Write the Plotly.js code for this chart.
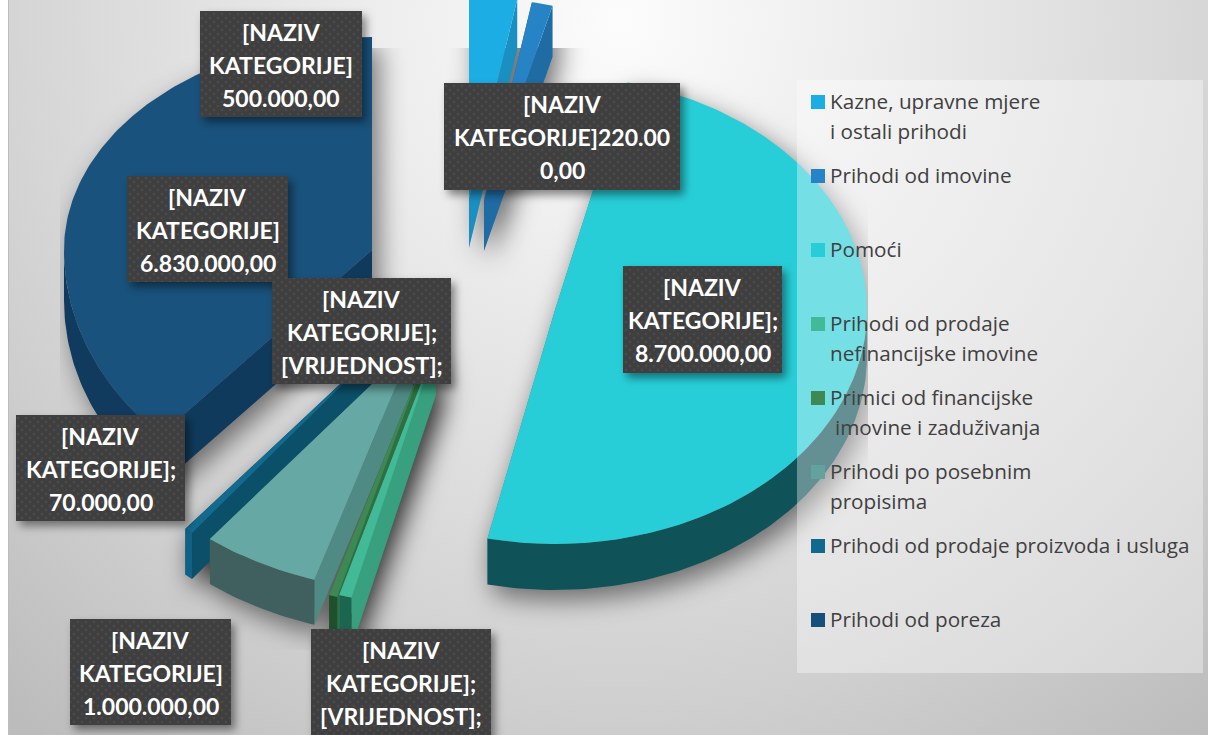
<!DOCTYPE html>
<html><head><meta charset="utf-8">
<script src="https://cdn.plot.ly/plotly-3.0.1.min.js"></script>
<style>
html,body{margin:0;padding:0;background:#fff;width:1208px;height:735px;overflow:hidden}
#bg{position:absolute;left:8px;top:0;width:1200px;height:735px;border-left:1px solid #bdbdbd;box-sizing:border-box;
background:radial-gradient(circle 920px at 612px 20px,#fcfcfc 0%,#eeeeee 25%,#dcdcdc 55%,#cfcfcf 75%,#bcbcbc 100%)}
#chart{position:absolute;left:0;top:0;width:1208px;height:735px}
</style></head><body>
<div id="bg"></div><div id="chart"></div>
<script>
// ---- data ----
const categories = ["Kazne, upravne mjere i ostali prihodi","Prihodi od imovine","Pomoći","Prihodi od prodaje nefinancijske imovine","Primici od financijske imovine i zaduživanja","Prihodi po posebnim propisima","Prihodi od prodaje proizvoda i usluga","Prihodi od poreza"];
const values = [500000,220000,8700000,100000,70000,1000000,70000,6830000];
const legendLines = [["Kazne, upravne mjere","i ostali prihodi"],["Prihodi od imovine"],["Pomoći"],["Prihodi od prodaje","nefinancijske imovine"],["Primici od financijske"," imovine i zaduživanja"],["Prihodi po posebnim","propisima"],["Prihodi od prodaje proizvoda i usluga"],["Prihodi od poreza"]];
const labelTexts = [
 ["[NAZIV","KATEGORIJE]","500.000,00"],
 ["[NAZIV","KATEGORIJE]220.00","0,00"],
 ["[NAZIV","KATEGORIJE];","8.700.000,00"],
 ["[NAZIV","KATEGORIJE];","[VRIJEDNOST];"],
 ["[NAZIV","KATEGORIJE];","[VRIJEDNOST];"],
 ["[NAZIV","KATEGORIJE]","1.000.000,00"],
 ["[NAZIV","KATEGORIJE];","70.000,00"],
 ["[NAZIV","KATEGORIJE]","6.830.000,00"]];
// ---- styles ----
const topColors  = ["#1cade4","#2683c6","#27ced7","#42ba97","#3e8853","#66a8a3","#126b8e","#19527c"];
const cutColors  = ["#1a8fc1","#1f6ba3","#1c9aa1","#38a07e","#2f6f42","#4f8a84","#0b4f68","#0f3a5c"];
const arcColors  = ["#14729a","#175680","#0f5257","#1c6650","#1f4f2d","#3f605e","#0f6286","#103a5e"];
const swatchColors = ["#1cade4","#2683c6","#27ced7","#42ba97","#3e8853","#62a39f","#0f6a8d","#154f7a"];
// per-slice projection: exploded centre, radii (upper/lower half), extrusion, rotation
const geom = [
 {cx:469,cy:198,rx:270,ry:202,ryLow:202,d:50,rot:0,a0Adj:0},
 {cx:484,cy:200,rx:268,ry:201,ryLow:201,d:51,rot:0,a0Adj:0},
 {cx:555,cy:310,rx:312,ry:234,ryLow:234,d:46,rot:-1.4,a0Adj:0},
 {cx:436,cy:345,rx:352,ry:260,ryLow:260,d:50,rot:0,a0Adj:0},
 {cx:429,cy:347,rx:334,ry:260,ryLow:260,d:50,rot:0,a0Adj:0},
 {cx:413,cy:345,rx:330,ry:246,ryLow:246,d:45,rot:0,a0Adj:0},
 {cx:400,cy:328,rx:338,ry:260,ryLow:260,d:46,rot:0,a0Adj:0},
 {cx:372,cy:250,rx:308,ry:213,ryLow:255,d:50,rot:0,a0Adj:4}];
const drawOrder = [7,0,1,2,6,5,4,3];
const boxes = [[200,11,362,117],[444,83,680,190],[623,266,782,373],[311,629,491,741],[272,278,451,384],[70,619,231,725],[16,415,185,521],[127,176,288,282]];

const total = values.reduce((a,b)=>a+b,0);
let acc = 0;
const slices = values.map((v,i)=>{const a0=acc/total*360; acc+=v; return {i,a0:a0+geom[i].a0Adj,a1:acc/total*360};});

function pt(g,t){const r=(t+g.rot)*Math.PI/180,c=Math.cos(r);return [g.cx+g.rx*Math.sin(r),g.cy-(c<0?g.ryLow:g.ry)*c];}
function arc(g,a,b){const o=[];const n=Math.max(2,Math.ceil((b-a)));for(let k=0;k<=n;k++)o.push(pt(g,a+(b-a)*k/n));return o;}
function polysFor(s){
  const g=geom[s.i];
  const top=[[g.cx,g.cy],...arc(g,s.a0,s.a1)];
  const down=p=>[p[0],p[1]+g.d];
  const e0=pt(g,s.a0),e1=pt(g,s.a1),c=[g.cx,g.cy];
  const cuts=[[c,e0,down(e0),down(c)],[c,e1,down(e1),down(c)]];
  const lo=Math.max(s.a0,90),hi=Math.min(s.a1,270);
  let side=null;
  if(hi>lo){const a=arc(g,lo,hi);side=[...a,...a.slice().reverse().map(down)];}
  return {top,cuts,side};
}
function fillTrace(polys,color,name){
  const x=[],y=[];
  polys.forEach(p=>{p.forEach(q=>{x.push(q[0]);y.push(q[1]);});x.push(p[0][0]);y.push(p[0][1]);x.push(null);y.push(null);});
  return {type:'scatter',mode:'lines',x,y,fill:'toself',fillcolor:color,line:{width:0,color:color},hoverinfo:'skip',name,showlegend:false};
}
const traces=[];
drawOrder.forEach(i=>{
  const p=polysFor(slices[i]);
  traces.push(fillTrace(p.cuts,cutColors[i],categories[i]+' (rez)'));
  if(p.side)traces.push(fillTrace([p.side],arcColors[i],categories[i]+' (bok)'));
  traces.push(fillTrace([p.top],topColors[i],categories[i]));
});

// soft shadows under the slices, from the same geometry
function pathOf(p){return 'M'+p.map(q=>q[0].toFixed(1)+' '+q[1].toFixed(1)).join('L')+'Z';}
let shadowPaths='';
slices.forEach(s=>{const p=polysFor(s);[p.top,...p.cuts,p.side].forEach(q=>{if(q)shadowPaths+='<path d="'+pathOf(q)+'"/>';});});
const svgBelow='<svg xmlns="http://www.w3.org/2000/svg" width="1208" height="735" viewBox="0 0 1208 735"><defs><filter id="b" x="-20%" y="-20%" width="140%" height="140%"><feGaussianBlur stdDeviation="13"/></filter><clipPath id="c"><rect x="60" y="48" width="808" height="602"/></clipPath></defs><g clip-path="url(#c)"><g filter="url(#b)" fill="#000" fill-opacity="0.5" transform="translate(7 10)">'+shadowPaths+'</g></g></svg>';
let boxShadow='',boxRects='';
boxes.forEach(b=>{const w=b[2]-b[0],h=b[3]-b[1];
  boxShadow+='<rect x="'+(b[0]+4)+'" y="'+(b[1]+5)+'" width="'+w+'" height="'+h+'"/>';
  boxRects+='<rect x="'+b[0]+'" y="'+b[1]+'" width="'+w+'" height="'+h+'" fill="url(#d)"/>';});
const svgAbove='<svg xmlns="http://www.w3.org/2000/svg" width="1208" height="735" viewBox="0 0 1208 735"><defs><filter id="s" x="-20%" y="-20%" width="140%" height="140%"><feGaussianBlur stdDeviation="4"/></filter><pattern id="d" width="8" height="8" patternUnits="userSpaceOnUse"><rect width="8" height="8" fill="#3f3f3f"/><circle cx="2" cy="2" r="1.3" fill="#4a4a4a"/><circle cx="6" cy="6" r="1.3" fill="#4a4a4a"/></pattern></defs><g filter="url(#s)" fill="#000" fill-opacity="0.45">'+boxShadow+'</g>'+boxRects+'</svg>';
const uri=s=>'data:image/svg+xml;charset=utf-8,'+encodeURIComponent(s);
const fullImg=(src,layer)=>({source:uri(src),xref:'paper',yref:'paper',x:0,y:1,sizex:1,sizey:1,xanchor:'left',yanchor:'top',sizing:'stretch',layer});

// annotations
const annotations=[];
labelTexts.forEach((lines,i)=>{const b=boxes[i];const cx=(b[0]+b[2])/2;
  lines.forEach((t,k)=>annotations.push({x:cx,y:b[1]+21+33*k,xref:'x',yref:'y',text:t,showarrow:false,xanchor:'center',yanchor:'middle',font:{family:'Lato, Carlito, sans-serif',size:23,color:'#fff',weight:700}}));
});
const shapes=[{type:'rect',xref:'x',yref:'y',x0:797,x1:1203,y0:80,y1:673,fillcolor:'rgba(255,255,255,0.36)',line:{width:0},layer:'above'}];
const rowStep=74,rowTop=102;
legendLines.forEach((lines,i)=>{const y=rowTop+rowStep*i;
  shapes.push({type:'rect',xref:'x',yref:'y',x0:811,x1:825,y0:y-7,y1:y+7,fillcolor:swatchColors[i],line:{width:0},layer:'above'});
  lines.forEach((t,k)=>annotations.push({x:t.startsWith(' ')?833:828,y:y-1+30*k,xref:'x',yref:'y',text:t.trim(),showarrow:false,xanchor:'left',yanchor:'middle',font:{family:'"Open Sans", sans-serif',size:20.7,color:'#404040'}}));
});

Plotly.newPlot('chart',traces,{
  width:1208,height:735,margin:{l:0,r:0,t:0,b:0},showlegend:false,
  paper_bgcolor:'rgba(0,0,0,0)',plot_bgcolor:'rgba(0,0,0,0)',
  xaxis:{range:[0,1208],visible:false,fixedrange:true},
  yaxis:{range:[735,0],visible:false,fixedrange:true},
  images:[fullImg(svgBelow,'below'),fullImg(svgAbove,'above')],
  shapes,annotations
},{displayModeBar:false,staticPlot:true});
</script></body></html>
